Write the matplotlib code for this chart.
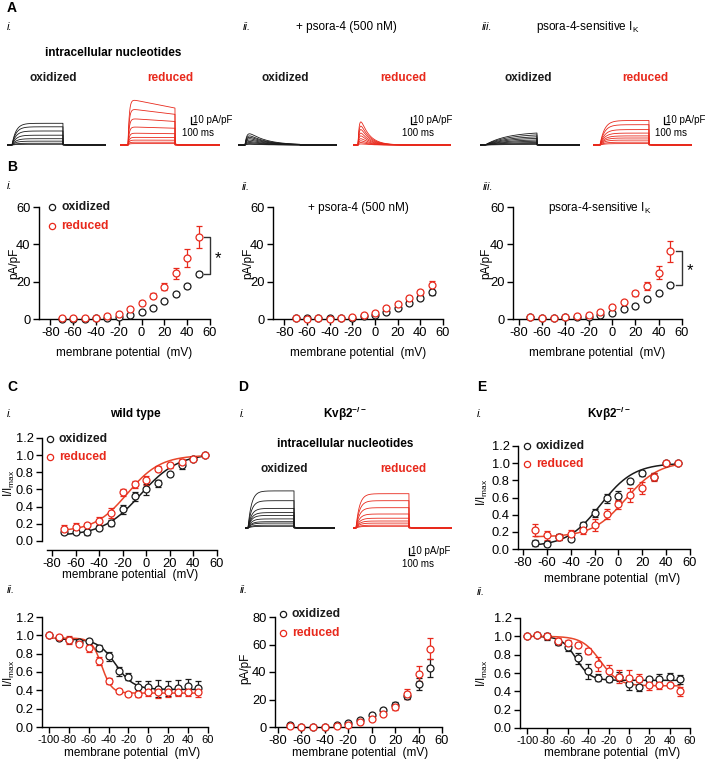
import numpy as np
import matplotlib
matplotlib.use("Agg")
import matplotlib.pyplot as plt
from matplotlib.lines import Line2D

plt.rcParams['font.family'] = ['Liberation Sans', 'DejaVu Sans']
plt.rcParams['axes.unicode_minus'] = False
plt.rcParams['mathtext.default'] = 'regular'

BLACK = '#1a1a1a'
RED = '#e8291c'
RED_FIT = '#e8462a'

# ---------------- data ----------------
# B: current density (pA/pF) vs membrane potential
v_iv = [-70, -60, -50, -40, -30, -20, -10, 0, 10, 20, 30, 40, 50]

bi_ox = [0.2, 0.2, 0.2, 0.3, 0.7, 1.0, 2.1, 3.9, 6.1, 9.6, 13.3, 17.8, 24.0]
bi_ox_err = [0.1, 0.1, 0.1, 0.1, 0.2, 0.3, 0.3, 0.4, 0.5, 0.6, 0.9, 1.0, 1.2]
bi_red = [0.3, 0.3, 0.4, 0.6, 1.6, 2.8, 5.3, 8.7, 12.5, 17.3, 24.4, 32.7, 44.0]
bi_red_err = [0.1, 0.1, 0.1, 0.2, 0.4, 0.6, 0.8, 1.0, 1.3, 2.0, 3.0, 4.6, 6.0]

bii_ox = [0.3, 0.3, 0.3, 0.3, 0.4, 0.5, 1.6, 2.1, 3.9, 6.0, 8.4, 11.4, 14.2]
bii_ox_err = [0.1, 0.1, 0.1, 0.1, 0.1, 0.2, 0.3, 0.3, 0.4, 0.5, 0.8, 1.0, 1.2]
bii_red = [0.3, 0.2, 0.3, 0.2, 0.7, 0.9, 2.1, 3.0, 5.7, 7.8, 11.0, 14.2, 18.0]
bii_red_err = [0.1, 0.1, 0.1, 0.1, 0.2, 0.2, 0.4, 0.5, 0.7, 0.9, 1.3, 1.6, 2.2]

biii_ox = [0.9, 0.5, 0.6, 0.9, 1.0, 1.0, 2.1, 3.0, 5.3, 7.1, 10.7, 13.7, 18.1]
biii_ox_err = [0.2, 0.1, 0.1, 0.2, 0.2, 0.3, 0.4, 0.5, 0.7, 0.8, 1.0, 1.0, 1.1]
biii_red = [1.2, 0.7, 0.7, 0.9, 1.4, 2.0, 3.9, 6.2, 8.9, 13.7, 17.8, 24.7, 36.3]
biii_red_err = [0.3, 0.2, 0.2, 0.3, 0.4, 0.5, 0.6, 0.8, 1.0, 1.2, 2.0, 3.5, 5.5]

# D ii: Kvb2-/- current density
dii_ox = [1.2, 0.0, 0.2, 0.2, 1.7, 2.9, 5.3, 8.5, 12.6, 16.2, 22.8, 31.5, 42.9]
dii_ox_err = [0.3, 0.2, 0.2, 0.2, 0.4, 0.5, 0.7, 1.0, 1.3, 1.8, 2.5, 4.5, 6.5]
dii_red = [0.5, 0.3, 0.3, 0.3, 1.0, 1.7, 3.4, 6.1, 9.7, 14.5, 24.2, 38.8, 57.0]
dii_red_err = [0.2, 0.1, 0.1, 0.1, 0.3, 0.4, 0.6, 0.8, 1.0, 2.0, 3.5, 5.5, 7.5]

# C i / E i: activation (I/Imax)
v_act = [-70, -60, -50, -40, -30, -20, -10, 0, 10, 20, 30, 40, 50]
ci_ox = [0.10, 0.11, 0.10, 0.15, 0.21, 0.37, 0.52, 0.60, 0.67, 0.78, 0.88, 0.96, 1.0]
ci_ox_err = [0.02, 0.03, 0.03, 0.02, 0.04, 0.05, 0.05, 0.06, 0.04, 0.02, 0.04, 0.02, 0.0]
ci_red = [0.145, 0.165, 0.185, 0.235, 0.33, 0.565, 0.66, 0.705, 0.84, 0.88, 0.92, 0.96, 1.0]
ci_red_err = [0.04, 0.04, 0.02, 0.05, 0.06, 0.04, 0.04, 0.05, 0.03, 0.03, 0.03, 0.02, 0.0]

ei_ox = [0.07, 0.06, 0.14, 0.12, 0.28, 0.42, 0.59, 0.62, 0.79, 0.88, 0.84, 1.0, 1.0]
ei_ox_err = [0.03, 0.03, 0.04, 0.03, 0.04, 0.05, 0.05, 0.06, 0.03, 0.03, 0.04, 0.02, 0.0]
ei_red = [0.22, 0.16, 0.14, 0.18, 0.22, 0.28, 0.41, 0.52, 0.63, 0.71, 0.84, 1.0, 1.0]
ei_red_err = [0.07, 0.05, 0.04, 0.04, 0.05, 0.07, 0.06, 0.05, 0.08, 0.07, 0.05, 0.02, 0.0]

# C ii / E ii: steady-state inactivation (I/Imax)
v_inact = [-100, -90, -80, -70, -60, -50, -40, -30, -20, -10, 0, 10, 20, 30, 40, 50]
cii_ox = [1.0, 0.97, 0.95, 0.93, 0.94, 0.86, 0.77, 0.61, 0.55, 0.44, 0.44, 0.42, 0.42, 0.43, 0.45, 0.43]
cii_ox_err = [0.0, 0.02, 0.02, 0.02, 0.02, 0.03, 0.05, 0.05, 0.04, 0.06, 0.06, 0.09, 0.08, 0.08, 0.07, 0.07]
cii_red = [1.0, 0.98, 0.95, 0.91, 0.86, 0.72, 0.50, 0.39, 0.36, 0.36, 0.38, 0.38, 0.38, 0.38, 0.38, 0.38]
cii_red_err = [0.0, 0.02, 0.04, 0.03, 0.04, 0.04, 0.03, 0.02, 0.02, 0.03, 0.04, 0.06, 0.05, 0.04, 0.04, 0.05]

eii_ox = [1.0, 1.02, 1.0, 0.94, 0.88, 0.76, 0.62, 0.55, 0.53, 0.56, 0.48, 0.45, 0.53, 0.54, 0.56, 0.53]
eii_ox_err = [0.0, 0.02, 0.04, 0.03, 0.04, 0.06, 0.08, 0.04, 0.03, 0.05, 0.06, 0.05, 0.03, 0.05, 0.04, 0.05]
eii_red = [1.0, 1.02, 1.0, 0.95, 0.93, 0.91, 0.84, 0.70, 0.62, 0.56, 0.55, 0.53, 0.47, 0.465, 0.465, 0.40]
eii_red_err = [0.0, 0.02, 0.03, 0.03, 0.03, 0.02, 0.03, 0.08, 0.07, 0.07, 0.08, 0.06, 0.05, 0.04, 0.02, 0.05]

# Boltzmann fit parameters: (bottom, top, V1/2, k)
fit_ci_ox = (0.06, 1.02, -5, 16)
fit_ci_red = (0.11, 1.00, -16, 14)
fit_ei_ox = (0.03, 1.00, -15, 14)
fit_ei_red = (0.14, 1.02, 6, 14)
fit_cii_ox = (0.41, 0.96, -33, 9)
fit_cii_red = (0.37, 0.97, -47, 5)
fit_eii_ox = (0.52, 1.00, -52, 7)
fit_eii_red = (0.46, 1.00, -28, 9)

# current traces: amplitudes (pA/pF) of each sweep
ai_ox_amp = [31, 26, 20, 14, 9, 5.5, 2.5, 1]
ai_red_amp = [66, 52, 38, 26, 17, 11, 7, 4, 2]
aii_ox_amp = [16, 13, 11, 9, 7, 5, 3.5, 2, 1]
aii_red_amp = [33, 27, 22, 17, 13, 9, 6, 3.5, 1.5]
aiii_ox_amp = [19, 16, 13, 10.5, 8, 6, 4, 2.5, 1]
aiii_red_amp = [35, 29, 22, 17, 13, 10, 7, 4, 2]
di_ox_amp = [53, 39, 28, 22, 18, 13, 9, 7, 4, 2.4]
di_red_amp = [49, 39, 29, 20, 14, 10, 7, 4, 2.4]

# ---------------- figure ----------------
W, H = 707, 763
fig = plt.figure(figsize=(W / 100, H / 100), dpi=100)


def px_axes(l, t, r, b):
    return fig.add_axes([l / W, 1 - b / H, (r - l) / W, (b - t) / H])


def T(x, y, s, **kw):
    kw.setdefault('va', 'center')
    kw.setdefault('fontsize', 8.5)
    fig.text(x / W, 1 - y / H, s, **kw)


def style(ax):
    for s in ['top', 'right']:
        ax.spines[s].set_visible(False)
    for s in ['left', 'bottom']:
        ax.spines[s].set_linewidth(1.0)
    ax.tick_params(direction='out', length=4, width=1, labelsize=9.3, pad=2)


def pts(ax, x, y, e, c):
    ax.errorbar(x, y, yerr=e, fmt='o', ms=5, mfc='white', mec=c, mew=0.9,
                ecolor=c, elinewidth=0.9, capsize=2.5, capthick=0.9,
                zorder=3, clip_on=False)


def boltz(ax, p, x0, x1, c, inact=False):
    v = np.linspace(x0, x1, 300)
    b, t, vh, k = p
    if inact:
        y = b + (t - b) / (1 + np.exp((v - vh) / k))
    else:
        y = b + (t - b) / (1 + np.exp((vh - v) / k))
    ax.plot(v, y, color=c, lw=1.1, zorder=2)


def legend(x, y, c, label):
    fig.add_artist(Line2D([x / W], [1 - y / H], marker='o', ms=4.5, mfc='white',
                          mec=c, mew=0.9, transform=fig.transFigure))
    T(x + 9, y, label, color=c, fontweight='bold', fontsize=8.7)


def traces(x0, x1, on_px, off_px, base, amps, c, kind, tau1, tau2=0, sag=0.0):
    ax = px_axes(x0, base - 55, x1, base + 3)
    ax.axis('off')
    t_end = (x1 - x0) * 20.0
    t_on = (on_px - x0) * 20.0
    t_off = (off_px - x0) * 20.0
    t = np.linspace(0, t_end, 1500)
    dt = np.clip(t - t_on, 0, None)
    for a in amps:
        if kind == 'act':
            w = (1 - np.exp(-dt / tau1)) * (1 - sag * (a / amps[0]) * dt / (t_off - t_on))
        else:
            w = (1 - np.exp(-dt / tau1)) * np.exp(-dt / tau2)
            w = w / w.max()
        y = a * w
        y[t > t_off] = a * w[np.searchsorted(t, t_off)] * 0.05 * np.exp(-(t[t > t_off] - t_off) / 30)
        ax.plot(t, y, color=c, lw=0.6)
    ax.set_xlim(0, t_end)
    ax.set_ylim(-3 * 10 / 7, 55 * 10 / 7)


def scalebar(x, y_top, tx_y, ms_x, ms_y):
    fig.add_artist(Line2D([x / W, x / W, (x + 5) / W],
                          [1 - y_top / H, 1 - (y_top + 7) / H, 1 - (y_top + 7) / H],
                          color='black', lw=0.9, transform=fig.transFigure))
    T(x + 2, tx_y, '10 pA/pF', fontsize=7)
    T(ms_x, ms_y, '100 ms', fontsize=7)


# ---------------- panel A ----------------
T(7, 8, 'A', fontweight='bold', fontsize=10)
T(7, 27, 'i.', style='italic', fontsize=8)
T(243, 27, 'ii.', style='italic', fontsize=8)
T(482, 27, 'iii.', style='italic', fontsize=8)
T(346, 27, '+ psora-4 (500 nM)', ha='center', fontsize=8.5)
T(588, 27, 'psora-4-sensitive I$_K$', ha='center', fontsize=8.5)
T(113, 53, 'intracellular nucleotides', ha='center', fontweight='bold')
for cx, lab, c in [(53, 'oxidized', BLACK), (170, 'reduced', RED),
                   (285, 'oxidized', BLACK), (403, 'reduced', RED),
                   (528, 'oxidized', BLACK), (645, 'reduced', RED)]:
    T(cx, 78, lab, ha='center', fontweight='bold', color=c)

base_a = 145
traces(7, 106, 12, 63, base_a, ai_ox_amp, BLACK, 'act', 80)
traces(120, 220, 128, 175, base_a, ai_red_amp, RED, 'act', 25, sag=0.2)
traces(238, 337, 245, 300, base_a, aii_ox_amp, BLACK, 'inact', 40, 350)
traces(353, 451, 358, 400, base_a, aii_red_amp, RED, 'inact', 30, 170)
traces(480, 580, 485, 537, base_a, aiii_ox_amp, BLACK, 'act', 450)
traces(593, 692, 600, 649, base_a, aiii_red_amp, RED, 'act', 90)
scalebar(191, 117, 120, 182, 133)
scalebar(411, 117, 120, 402, 133)
scalebar(664, 117, 120, 655, 133)

# ---------------- panel B ----------------
T(7, 167, 'B', fontweight='bold', fontsize=10)
T(7, 186, 'i.', style='italic', fontsize=8)
T(242, 187, 'ii.', style='italic', fontsize=8)
T(483, 187, 'iii.', style='italic', fontsize=8)

b_specs = [((39, 207, 210, 319), -90, bi_ox, bi_ox_err, bi_red, bi_red_err, 14),
           ((273, 207, 443, 319), -90, bii_ox, bii_ox_err, bii_red, bii_red_err, 248),
           ((513, 207, 682, 319), -85, biii_ox, biii_ox_err, biii_red, biii_red_err, 486)]
b_axes = []
for rect, xl, ox, oxe, rd, rde, ylx in b_specs:
    ax = px_axes(*rect)
    style(ax)
    pts(ax, v_iv, ox, oxe, BLACK)
    pts(ax, v_iv, rd, rde, RED)
    ax.set_xlim(xl, 60)
    ax.set_ylim(0, 60)
    ax.set_xticks(range(-80, 61, 20))
    ax.set_yticks([0, 20, 40, 60])
    T(ylx, 263, 'pA/pF', rotation=90, ha='center')
    T((rect[0] + rect[2]) / 2, 353, 'membrane potential  (mV)', ha='center')
    b_axes.append(ax)

legend(52, 207, BLACK, 'oxidized')
legend(52, 226, RED, 'reduced')
T(358, 208, '+ psora-4 (500 nM)', ha='center')
T(600, 208, 'psora-4-sensitive I$_K$', ha='center')

# significance brackets
for ax, top, bot in [(b_axes[0], bi_red[-1], bi_ox[-1]), (b_axes[2], biii_red[-1], biii_ox[-1])]:
    ax.plot([55, 60, 60, 55], [top, top, bot, bot], color='#333333', lw=1.0, clip_on=False)
    ax.text(64, (top + bot) / 2 - 1.5, '*', fontsize=12, ha='left', va='center', clip_on=False)

# ---------------- panel C ----------------
T(7, 387, 'C', fontweight='bold', fontsize=10)
T(7, 414, 'i.', style='italic', fontsize=8)
T(135, 414, 'wild type', ha='center', fontweight='bold')
T(7, 590, 'ii.', style='italic', fontsize=8)

ax = px_axes(42, 438, 217, 550)
style(ax)
boltz(ax, fit_ci_ox, -70, 50, BLACK)
boltz(ax, fit_ci_red, -70, 50, RED_FIT)
pts(ax, v_act, ci_ox, ci_ox_err, BLACK)
pts(ax, v_act, ci_red, ci_red_err, RED)
ax.set_xlim(-88.5, 60)
ax.set_ylim(-0.105, 1.2)
ax.spines['left'].set_bounds(0, 1.2)
ax.spines['bottom'].set_bounds(-84, 60)
ax.set_xticks(range(-80, 61, 20))
ax.set_yticks(np.arange(0, 1.21, 0.2))
ax.set_yticklabels(['%.1f' % v for v in np.arange(0, 1.21, 0.2)])
T(9, 483, 'I/I$_{max}$', rotation=90, ha='center')
T(130, 575, 'membrane potential  (mV)', ha='center')
legend(50, 439, BLACK, 'oxidized')
legend(50, 457, RED, 'reduced')

ax = px_axes(42, 617, 208, 727)
style(ax)
boltz(ax, fit_cii_ox, -90, 50, BLACK, inact=True)
boltz(ax, fit_cii_red, -100, 50, RED_FIT, inact=True)
pts(ax, v_inact, cii_ox, cii_ox_err, BLACK)
pts(ax, v_inact, cii_red, cii_red_err, RED)
ax.set_xlim(-107, 60)
ax.set_ylim(0, 1.2)
ax.set_xticks(range(-100, 61, 20))
ax.tick_params(axis='x', labelsize=8)
ax.set_yticks(np.arange(0, 1.21, 0.2))
ax.set_yticklabels(['%.1f' % v for v in np.arange(0, 1.21, 0.2)])
T(9, 673, 'I/I$_{max}$', rotation=90, ha='center')
T(132, 753, 'membrane potential  (mV)', ha='center')

# ---------------- panel D ----------------
T(238, 387, 'D', fontweight='bold', fontsize=10)
T(240, 414, 'i.', style='italic', fontsize=8)
T(345, 414, 'Kv\u03b22$^{-/-}$', ha='center', fontweight='bold')
T(345, 444, 'intracellular nucleotides', ha='center', fontweight='bold')
T(284, 469, 'oxidized', ha='center', fontweight='bold', color=BLACK)
T(403, 469, 'reduced', ha='center', fontweight='bold', color=RED)
traces(245, 335, 248, 294, 528, di_ox_amp, BLACK, 'act', 70)
traces(353, 452, 356, 409, 528, di_red_amp, RED, 'act', 70)
scalebar(409, 548, 551, 402, 564)
T(240, 590, 'ii.', style='italic', fontsize=8)

ax = px_axes(275, 617, 442, 727)
style(ax)
pts(ax, v_iv, dii_ox, dii_ox_err, BLACK)
pts(ax, v_iv, dii_red, dii_red_err, RED)
ax.set_xlim(-82.6, 60)
ax.set_ylim(0, 80)
ax.set_xticks(range(-80, 61, 20))
ax.set_yticks(range(0, 81, 20))
T(245, 668, 'pA/pF', rotation=90, ha='center')
T(360, 753, 'membrane potential  (mV)', ha='center')
legend(283, 614, BLACK, 'oxidized')
legend(283, 633, RED, 'reduced')

# ---------------- panel E ----------------
T(477, 387, 'E', fontweight='bold', fontsize=10)
T(477, 414, 'i.', style='italic', fontsize=8)
T(609, 414, 'Kv\u03b22$^{-/-}$', ha='center', fontweight='bold')
T(477, 592, 'ii.', style='italic', fontsize=8)

ax = px_axes(518, 446, 690, 549)
style(ax)
boltz(ax, fit_ei_ox, -70, 50, BLACK)
boltz(ax, fit_ei_red, -70, 50, RED_FIT)
pts(ax, v_act, ei_ox, ei_ox_err, BLACK)
pts(ax, v_act, ei_red, ei_red_err, RED)
ax.set_xlim(-84.2, 60)
ax.set_ylim(0, 1.2)
ax.set_xticks(range(-80, 61, 20))
ax.set_yticks(np.arange(0, 1.21, 0.2))
ax.set_yticklabels(['%.1f' % v for v in np.arange(0, 1.21, 0.2)])
T(482, 492, 'I/I$_{max}$', rotation=90, ha='center')
T(612, 579, 'membrane potential  (mV)', ha='center')
legend(527, 446, BLACK, 'oxidized')
legend(527, 464, RED, 'reduced')

ax = px_axes(520, 618, 690, 728)
style(ax)
boltz(ax, fit_eii_ox, -90, 50, BLACK, inact=True)
boltz(ax, fit_eii_red, -100, 50, RED_FIT, inact=True)
pts(ax, v_inact, eii_ox, eii_ox_err, BLACK)
pts(ax, v_inact, eii_red, eii_red_err, RED)
ax.set_xlim(-107, 60)
ax.set_ylim(0, 1.2)
ax.set_xticks(range(-100, 61, 20))
ax.tick_params(axis='x', labelsize=8)
ax.set_yticks(np.arange(0, 1.21, 0.2))
ax.set_yticklabels(['%.1f' % v for v in np.arange(0, 1.21, 0.2)])
T(482, 673, 'I/I$_{max}$', rotation=90, ha='center')
T(612, 753, 'membrane potential  (mV)', ha='center')

fig.savefig('out.png', dpi=100)
